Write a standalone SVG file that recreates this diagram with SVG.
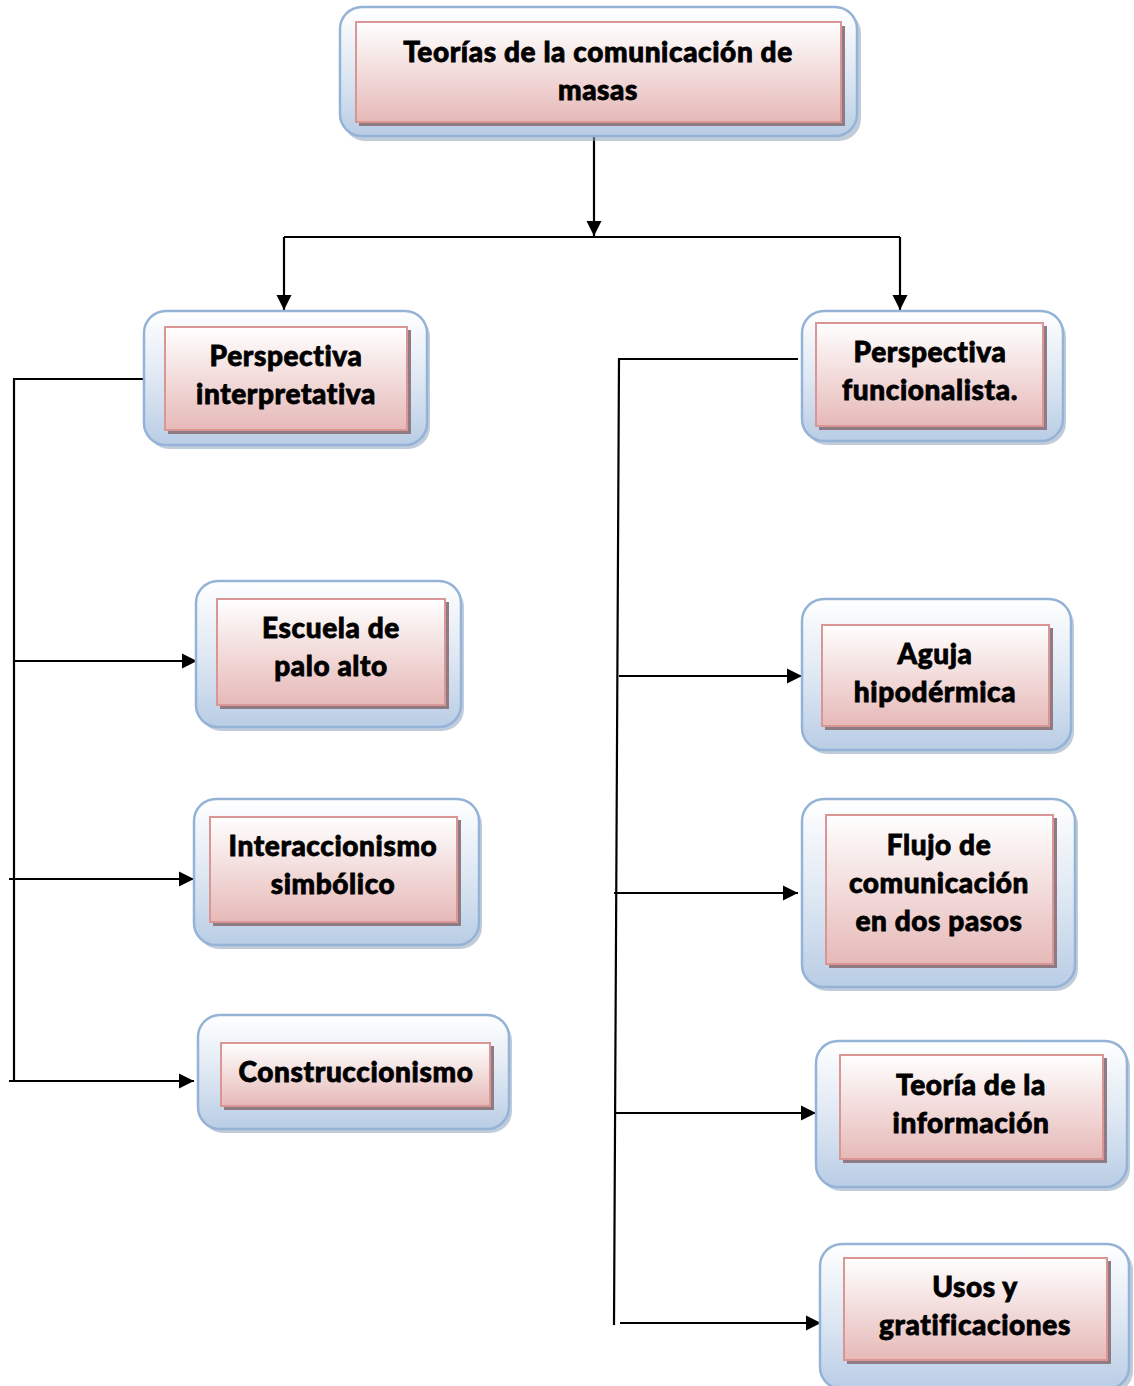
<svg xmlns="http://www.w3.org/2000/svg" width="1134" height="1386" viewBox="0 0 1134 1386">
<defs>
<linearGradient id="gOuter" x1="0" y1="0" x2="0" y2="1">
<stop offset="0" stop-color="#ffffff"/><stop offset="0.55" stop-color="#dce6f2"/><stop offset="1" stop-color="#b9cde5"/>
</linearGradient>
<linearGradient id="gInner" x1="0" y1="0" x2="0" y2="1">
<stop offset="0" stop-color="#ffffff"/><stop offset="0.5" stop-color="#f2dcdb"/><stop offset="1" stop-color="#e6b9b8"/>
</linearGradient>
<marker id="arr" viewBox="0 0 10 10" refX="10" refY="5" markerWidth="7" markerHeight="7" orient="auto" markerUnits="strokeWidth">
<path d="M0,0 L10,5 L0,10 z" fill="#000"/>
</marker>
</defs>
<style>
.osh{fill:#8ea3bd;opacity:0.55}
.out{fill:url(#gOuter);stroke:#95b3d7;stroke-width:2.5}
.ish{fill:#8f7b84}
.in{fill:url(#gInner);stroke:#d99694;stroke-width:2}
.t{font-family:Lato,"Open Sans","Liberation Sans",sans-serif;font-weight:900;font-size:28px;letter-spacing:0.6px;fill:#000;stroke:#000;stroke-width:0.8;text-anchor:middle}
.c{fill:none;stroke:#000;stroke-width:2.2}
.ca{fill:none;stroke:#000;stroke-width:2.2;marker-end:url(#arr)}
</style>

<g id="connectors">
<path class="ca" d="M594,134 V236"/>
<path class="c" d="M284,237 H900"/>
<path class="ca" d="M284,237 V310"/>
<path class="ca" d="M900,237 V310"/>
<path class="c" d="M144,379 H14 V1081"/>
<path class="ca" d="M14,661 H197"/>
<path class="ca" d="M9,879 H194"/>
<path class="ca" d="M9,1081 H194"/>
<path class="c" d="M798,359 H619 L614,1325"/>
<path class="ca" d="M619,676 H802"/>
<path class="ca" d="M614,893 H798"/>
<path class="ca" d="M614,1113 H816"/>
<path class="ca" d="M620,1323 H821"/>
</g>

<g id="n1">
<rect class="osh" x="343" y="11" width="518" height="130" rx="22"/>
<rect class="out" x="340" y="7" width="517" height="129" rx="22"/>
<rect class="ish" x="359" y="26" width="486" height="100"/>
<rect class="in" x="356" y="22" width="485" height="100"/>
<text class="t" x="598" y="62">Teorías de la comunicación de</text>
<text class="t" x="598" y="100">masas</text>
</g>

<g id="n2">
<rect class="osh" x="147" y="315" width="283" height="134" rx="22"/>
<rect class="out" x="144" y="311" width="283" height="134" rx="22"/>
<rect class="ish" x="168" y="330" width="243" height="104"/>
<rect class="in" x="165" y="327" width="242" height="103"/>
<text class="t" x="286" y="366">Perspectiva</text>
<text class="t" x="286" y="404">interpretativa</text>
</g>

<g id="n3">
<rect class="osh" x="805" y="315" width="261" height="130" rx="22"/>
<rect class="out" x="802" y="311" width="261" height="130" rx="22"/>
<rect class="ish" x="819" y="326" width="228" height="104"/>
<rect class="in" x="816" y="323" width="227" height="103"/>
<text class="t" x="930" y="362">Perspectiva</text>
<text class="t" x="930" y="400">funcionalista.</text>
</g>

<g id="n4">
<rect class="osh" x="199" y="585" width="265" height="146" rx="22"/>
<rect class="out" x="196" y="581" width="265" height="146" rx="22"/>
<rect class="ish" x="220" y="602" width="229" height="107"/>
<rect class="in" x="217" y="599" width="228" height="106"/>
<text class="t" x="331" y="638">Escuela de</text>
<text class="t" x="331" y="676">palo alto</text>
</g>

<g id="n5">
<rect class="osh" x="197" y="803" width="285" height="146" rx="22"/>
<rect class="out" x="194" y="799" width="285" height="146" rx="22"/>
<rect class="ish" x="213" y="820" width="248" height="106"/>
<rect class="in" x="210" y="817" width="247" height="105"/>
<text class="t" x="333" y="856">Interaccionismo</text>
<text class="t" x="333" y="894">simbólico</text>
</g>

<g id="n6">
<rect class="osh" x="201" y="1019" width="311" height="114" rx="22"/>
<rect class="out" x="198" y="1015" width="311" height="114" rx="22"/>
<rect class="ish" x="224" y="1046" width="270" height="64"/>
<rect class="in" x="221" y="1043" width="269" height="63"/>
<text class="t" x="356" y="1082">Construccionismo</text>
</g>

<g id="n7">
<rect class="osh" x="805" y="603" width="269" height="151" rx="22"/>
<rect class="out" x="802" y="599" width="269" height="151" rx="22"/>
<rect class="ish" x="825" y="628" width="228" height="102"/>
<rect class="in" x="822" y="625" width="227" height="101"/>
<text class="t" x="935" y="664">Aguja</text>
<text class="t" x="935" y="702">hipodérmica</text>
</g>

<g id="n8">
<rect class="osh" x="805" y="803" width="273" height="188" rx="22"/>
<rect class="out" x="802" y="799" width="273" height="188" rx="22"/>
<rect class="ish" x="829" y="818" width="228" height="150"/>
<rect class="in" x="826" y="815" width="227" height="149"/>
<text class="t" x="939" y="855">Flujo de</text>
<text class="t" x="939" y="893">comunicación</text>
<text class="t" x="939" y="931">en dos pasos</text>
</g>

<g id="n9">
<rect class="osh" x="819" y="1045" width="311" height="146" rx="22"/>
<rect class="out" x="816" y="1041" width="311" height="146" rx="22"/>
<rect class="ish" x="843" y="1058" width="264" height="105"/>
<rect class="in" x="840" y="1055" width="263" height="104"/>
<text class="t" x="971" y="1095">Teoría de la</text>
<text class="t" x="971" y="1133">información</text>
</g>

<g id="n10">
<rect class="osh" x="823" y="1248" width="310" height="145" rx="22"/>
<rect class="out" x="820" y="1244" width="309" height="145" rx="22"/>
<rect class="ish" x="847" y="1261" width="264" height="103"/>
<rect class="in" x="844" y="1258" width="263" height="102"/>
<text class="t" x="975" y="1297">Usos y</text>
<text class="t" x="975" y="1335">gratificaciones</text>
</g>
</svg>
